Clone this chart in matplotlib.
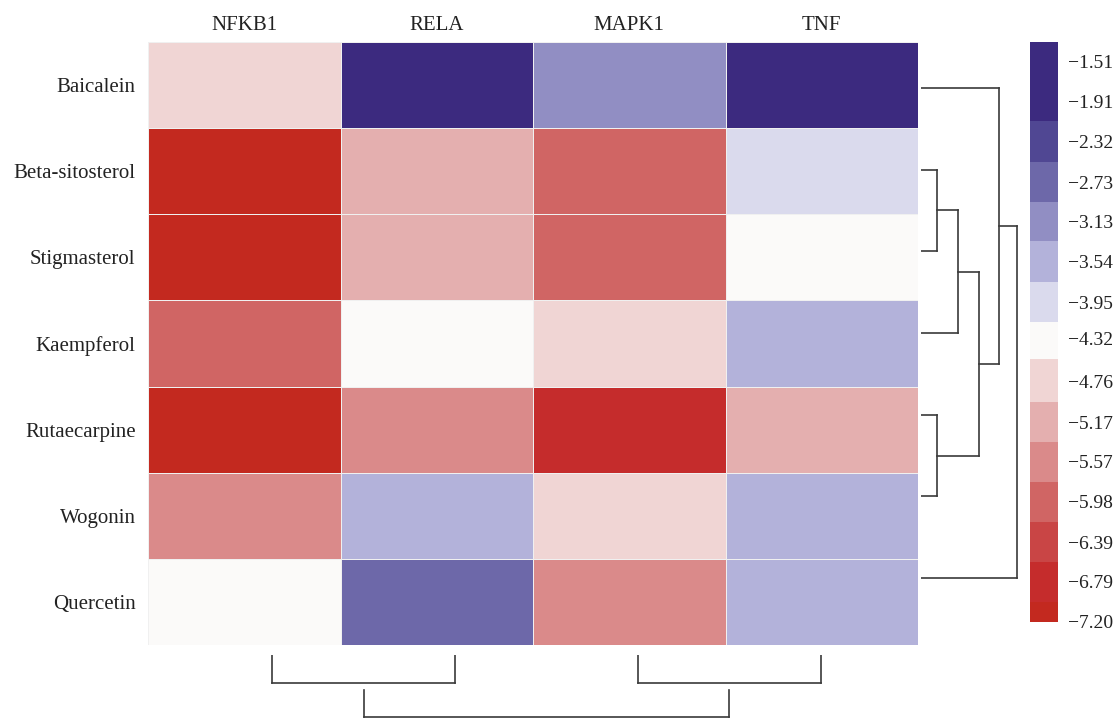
import numpy as np
import matplotlib
matplotlib.use("Agg")
import matplotlib.pyplot as plt
from matplotlib.colors import ListedColormap, BoundaryNorm

plt.rcParams["font.family"] = ["Liberation Serif", "DejaVu Serif"]

compounds = ["Baicalein", "Beta-sitosterol", "Stigmasterol", "Kaempferol",
             "Rutaecarpine", "Wogonin", "Quercetin"]
targets = ["NFKB1", "RELA", "MAPK1", "TNF"]

# binding energies, rows = compounds, cols = targets
nfkb1 = [-4.76, -7.15, -7.10, -5.98, -7.05, -5.57, -4.32]
rela = [-1.60, -5.17, -5.17, -4.32, -5.57, -3.54, -2.73]
mapk1 = [-3.13, -5.98, -5.98, -4.76, -6.75, -4.76, -5.57]
tnf = [-1.70, -3.95, -4.32, -3.54, -5.17, -3.54, -3.54]
scores = np.column_stack([nfkb1, rela, mapk1, tnf])

cbar_levels = [-1.51, -1.91, -2.32, -2.73, -3.13, -3.54, -3.95, -4.32,
               -4.76, -5.17, -5.57, -5.98, -6.39, -6.79, -7.20]
# one colour per band, top (blue) to bottom (red)
band_colors = ["#3c2a7f", "#3c2a7f", "#504793", "#6d68a9", "#918ec3",
               "#b3b2da", "#dadaed", "#fbfaf9", "#f0d5d4", "#e4afaf",
               "#da8a8a", "#d06564", "#c94545", "#c52c2c", "#c3291f"]

# hierarchical merges: (child a, child b, height); new nodes numbered after leaves
row_links = [(1, 2, 1.0), (7, 3, 2.3), (4, 5, 1.0), (8, 9, 3.6),
             (0, 10, 4.85), (11, 6, 6.0)]
col_links = [(0, 1, 1.0), (2, 3, 1.0), (4, 5, 2.2)]

W, H = 1117, 718
fig = plt.figure(figsize=(W / 100, H / 100), dpi=100)


def px_axes(x0, y0, x1, y1):
    return fig.add_axes([x0 / W, 1 - y1 / H, (x1 - x0) / W, (y1 - y0) / H])


def draw_dendrogram(ax, links, n_leaves, orient, gap=0.0, color="#3a3a3a"):
    pos = list(range(n_leaves))
    height = [0.0] * n_leaves
    for a, b, h in links:
        for c in (a, b):
            start = height[c] + (gap if c >= n_leaves else 0.0)
            if orient == "right":
                ax.plot([start, h], [pos[c], pos[c]], color=color, lw=1.2)
            else:
                ax.plot([pos[c], pos[c]], [start, h], color=color, lw=1.2)
        if orient == "right":
            ax.plot([h, h], [pos[a], pos[b]], color=color, lw=1.2)
        else:
            ax.plot([pos[a], pos[b]], [h, h], color=color, lw=1.2)
        pos.append((pos[a] + pos[b]) / 2)
        height.append(h)
    ax.axis("off")


# colour scale: each band centred on its label, last band cut at the minimum
half = (cbar_levels[0] - cbar_levels[-2]) / (len(cbar_levels) - 2) / 2
bounds = [cbar_levels[0] + half] + [v - half for v in cbar_levels[:-1]] + [cbar_levels[-1]]
bounds = sorted(bounds)
cmap = ListedColormap(band_colors[::-1])
norm = BoundaryNorm(bounds, cmap.N)

# heatmap
ax = px_axes(148, 42, 918, 645)
mesh = ax.pcolormesh(scores, cmap=cmap, norm=norm, edgecolors="#f0f0f0", linewidth=0.6)
ax.set_xlim(0, len(targets))
ax.set_ylim(len(compounds), 0)
ax.xaxis.tick_top()
ax.set_xticks(np.arange(len(targets)) + 0.5)
ax.set_xticklabels(targets, fontsize=15, color="#222222")
ax.set_yticks(np.arange(len(compounds)) + 0.5)
ax.set_yticklabels(compounds, fontsize=15, color="#222222")
ax.tick_params(length=0)
ax.tick_params(axis="x", pad=5)
ax.tick_params(axis="y", pad=9)
for s in ax.spines.values():
    s.set_visible(False)

# row dendrogram on the right
rax = px_axes(921, 47, 1019, 619)
draw_dendrogram(rax, row_links, len(compounds), "right")
rax.set_ylim(len(compounds) - 0.5, -0.5)
rax.set_xlim(0, 6.1)

# column dendrogram below
cax_d = px_axes(181, 655, 912, 718)
draw_dendrogram(cax_d, col_links, len(targets), "down", gap=0.25)
cax_d.set_xlim(-0.5, len(targets) - 0.5)
cax_d.set_ylim(63 / 28, 0)

# colour bar
cax = px_axes(1030, 42, 1058, 622)
cb = fig.colorbar(mesh, cax=cax, boundaries=bounds, spacing="proportional",
                  ticks=cbar_levels)
cb.ax.minorticks_off()
cb.ax.set_yticklabels([f"{v:.2f}".replace("-", "\u2212") for v in cbar_levels],
                      fontsize=14, color="#222222")
cb.ax.tick_params(which="both", length=0, pad=7)
cb.outline.set_visible(False)

fig.savefig("out.png", dpi=100, facecolor="white")
